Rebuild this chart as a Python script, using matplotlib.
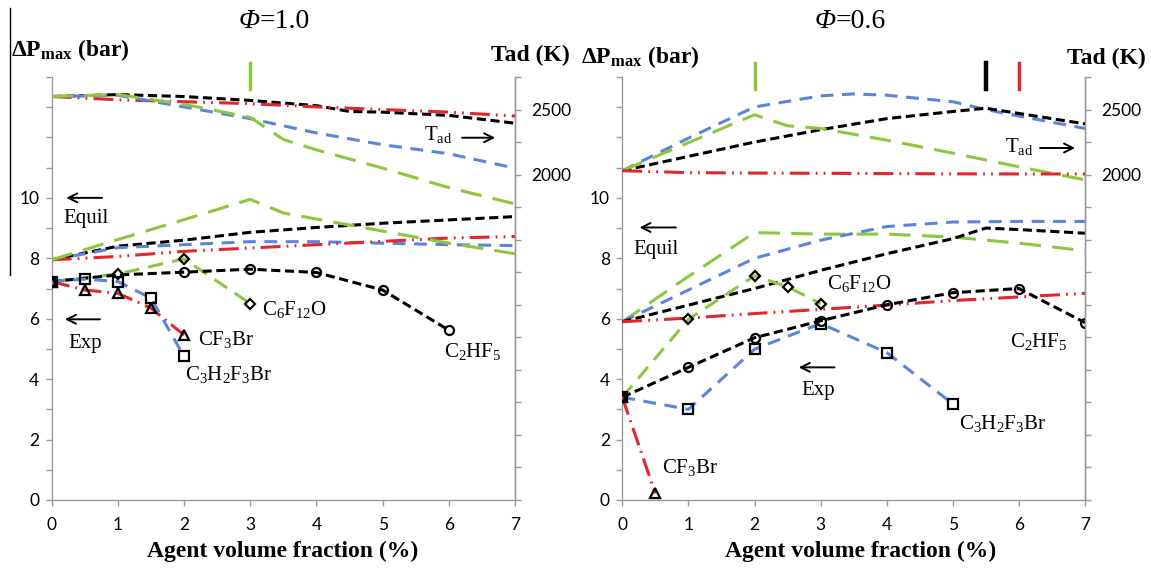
import matplotlib
matplotlib.use('Agg')
import matplotlib.pyplot as plt
from matplotlib.lines import Line2D

plt.rcParams['mathtext.fontset'] = 'custom'
plt.rcParams['mathtext.rm'] = 'Liberation Serif'
plt.rcParams['mathtext.it'] = 'Liberation Serif:italic'
plt.rcParams['mathtext.bf'] = 'Liberation Serif:bold'

# ---------------- data: Phi = 1.0 (left panel) ----------------
x_int = [0, 1, 2, 3, 4, 5, 6, 7]

L_tad_black_x = [0, 1, 2, 3, 4, 4.5, 5, 6, 7]
L_tad_black = [2600, 2615, 2600, 2570, 2530, 2485, 2480, 2455, 2395]
L_tad_red = [2600, 2575, 2560, 2545, 2520, 2500, 2480, 2450]
L_tad_blue = [2600, 2610, 2520, 2430, 2320, 2230, 2160, 2050]
L_tad_green_x = [0, 1, 2, 3, 3.5, 4, 5, 6, 7]
L_tad_green = [2600, 2615, 2540, 2440, 2270, 2190, 2050, 1900, 1775]

L_eq_black = [7.95, 8.40, 8.60, 8.86, 9.02, 9.16, 9.27, 9.38]
L_eq_blue = [7.95, 8.35, 8.45, 8.55, 8.55, 8.50, 8.45, 8.42]
L_eq_red = [7.95, 8.06, 8.23, 8.34, 8.45, 8.56, 8.67, 8.72]
L_eq_green_x = [0, 1, 2, 3, 3.5, 4, 5, 6, 7]
L_eq_green = [7.95, 8.62, 9.28, 9.95, 9.50, 9.30, 8.90, 8.50, 8.15]

L_exp_c2hf5_x = [0, 1, 2, 3, 4, 5, 6]
L_exp_c2hf5 = [7.23, 7.45, 7.54, 7.64, 7.53, 6.95, 5.62]
L_exp_c6f12o_x = [0, 1, 2, 3]
L_exp_c6f12o = [7.23, 7.48, 7.98, 6.50]
L_exp_cf3br_x = [0, 0.5, 1, 1.5, 2]
L_exp_cf3br = [7.23, 6.95, 6.84, 6.35, 5.46]
L_exp_c3h2f3br_x = [0, 0.5, 1, 1.5, 2]
L_exp_c3h2f3br = [7.23, 7.31, 7.23, 6.68, 4.75]

# ---------------- data: Phi = 0.6 (right panel) ----------------
R_tad_black_x = [0, 1, 2, 3, 4, 5, 5.5, 6, 7]
R_tad_black = [2030, 2140, 2250, 2345, 2430, 2485, 2510, 2470, 2390]
R_tad_blue_x = [0, 1, 2, 3, 3.5, 4, 5, 5.5, 6, 7]
R_tad_blue = [2030, 2280, 2520, 2605, 2620, 2610, 2560, 2500, 2450, 2355]
R_tad_green_x = [0, 1, 2, 2.5, 3, 4, 5, 6, 7]
R_tad_green = [2030, 2245, 2460, 2375, 2355, 2265, 2165, 2060, 1960]
R_tad_red = [2030, 2015, 2012, 2010, 2008, 2006, 2005, 2005]

R_eq_green = [5.90, 7.40, 8.85, 8.80, 8.80, 8.70, 8.50, 8.25]
R_eq_blue = [5.90, 6.95, 8.00, 8.60, 9.05, 9.20, 9.22, 9.22]
R_eq_black_x = [0, 1, 2, 3, 4, 5, 5.5, 6, 7]
R_eq_black = [5.90, 6.45, 7.00, 7.60, 8.15, 8.65, 9.00, 8.95, 8.83]
R_eq_red = [5.90, 6.02, 6.17, 6.31, 6.45, 6.60, 6.72, 6.84]

R_exp_c2hf5 = [3.40, 4.39, 5.37, 5.93, 6.46, 6.86, 7.00, 5.87]
R_exp_c3h2f3br_x = [0, 1, 2, 3, 4, 5]
R_exp_c3h2f3br = [3.40, 3.00, 4.99, 5.84, 4.88, 3.18]
R_exp_cf3br_x = [0, 0.5]
R_exp_cf3br = [3.40, 0.22]
R_exp_c6f12o_x = [0, 1, 2, 2.5, 3]
R_exp_c6f12o = [3.40, 5.98, 7.42, 7.06, 6.50]

L_peak_x = [3]
L_peak_colors = ['green']
R_peak_x = [2, 5.5, 6]
R_peak_colors = ['green', 'black', 'red']

# ---------------- styles ----------------
C = {'black': '#000000', 'blue': '#5b84dc', 'green': '#8dc63f', 'red': '#e2262b'}
LS = {'black': (0, (3.0, 1.5)),
      'blue': (0, (4.2, 2.8)),
      'green': (0, (7.0, 3.7)),
      'red': (0, (6.5, 2.0, 0.6, 2.0, 0.6, 2.0))}
SPINE = '#9a9a9a'
W, H = 1151, 568
LW = 2.2

fig = plt.figure(figsize=(W / 100, H / 100), dpi=100)

def fx(px):
    return px / W

def fy(py):
    return 1 - py / H

def style_axes(ax, ax2):
    ax.set_xlim(0, 7)
    ax.set_ylim(0, 14)
    ax2.set_ylim(-500, 2750)
    for a in (ax, ax2):
        a.spines['top'].set_visible(False)
        for s in ('left', 'right', 'bottom'):
            a.spines[s].set_color(SPINE)
            a.spines[s].set_linewidth(1.0)
        a.tick_params(colors=SPINE, labelcolor='black', length=4, width=1,
                      direction='out', labelsize=12.5)
    ax.set_xticks(range(8))
    ax.set_xticklabels([str(i) for i in range(8)], fontfamily='Lato')
    ax.tick_params(axis='x', pad=8)
    ax.tick_params(axis='y', pad=5)
    yt = list(range(15))
    ax.set_yticks(yt)
    ax.set_yticklabels([str(v) if (v % 2 == 0 and v <= 10) else '' for v in yt],
                       fontfamily='Lato')
    rt = list(range(-500, 2751, 250))
    ax2.set_yticks(rt)
    ax2.set_yticklabels([str(v) if v in (2000, 2500) else '' for v in rt],
                        fontfamily='Lato')
    ax2.tick_params(axis='y', pad=8)
    ax2.spines['left'].set_visible(False)
    ax2.spines['bottom'].set_visible(False)

def line(a, x, y, col, lw=LW, ls=None, z=3):
    a.plot(x, y, color=C[col], lw=lw, linestyle=ls if ls is not None else LS[col],
           zorder=z, solid_capstyle='butt', dash_capstyle='butt')

def marks(a, x, y, m, ms):
    a.plot(x, y, linestyle='none', marker=m, ms=ms, mfc='none', mec='black',
           mew=1.6, zorder=6)

def tlabel(a, x, y, s, ha='left'):
    a.text(x, y, s, ha=ha, va='center', fontsize=15, fontfamily='Liberation Serif',
           zorder=7)

def arrow(a, x_head, x_tail, y):
    a.annotate('', xy=(x_head, y), xytext=(x_tail, y),
               arrowprops=dict(arrowstyle='->', lw=1.4, color='black',
                               mutation_scale=16, shrinkA=0, shrinkB=0),
               zorder=7)

# ---------------- left panel ----------------
axL = fig.add_axes([fx(51.7), fy(500), fx(515 - 51.7), (500 - 77) / H])
axL2 = axL.twinx()
style_axes(axL, axL2)

line(axL2, L_tad_black_x, L_tad_black, 'black')
line(axL2, x_int, L_tad_red, 'red')
line(axL2, x_int, L_tad_blue, 'blue')
line(axL2, L_tad_green_x, L_tad_green, 'green')

line(axL, x_int, L_eq_black, 'black')
line(axL, x_int, L_eq_blue, 'blue')
line(axL, x_int, L_eq_red, 'red')
line(axL, L_eq_green_x, L_eq_green, 'green')

line(axL, L_exp_c6f12o_x, L_exp_c6f12o, 'green', ls=(0, (5, 3)))
line(axL, L_exp_c2hf5_x, L_exp_c2hf5, 'black')
line(axL, L_exp_cf3br_x, L_exp_cf3br, 'red', ls=(0, (6, 2, 0.6, 2)))
line(axL, L_exp_c3h2f3br_x, L_exp_c3h2f3br, 'blue')
marks(axL, L_exp_c2hf5_x[:1] + L_exp_c2hf5_x[2:], L_exp_c2hf5[:1] + L_exp_c2hf5[2:], 'o', 6.5)
marks(axL, L_exp_c6f12o_x, L_exp_c6f12o, 'D', 5.5)
marks(axL, L_exp_cf3br_x, L_exp_cf3br, '^', 7)
marks(axL, L_exp_c3h2f3br_x, L_exp_c3h2f3br, 's', 7.5)

for px, pc in zip(L_peak_x, L_peak_colors):
    axL.plot([px, px], [13.6, 14.46], color=C[pc], lw=2.5, clip_on=False, zorder=5)

tlabel(axL, 5.62, 12.09, r'T$_{\rm ad}$')
arrow(axL, 6.7, 6.2, 11.99)
arrow(axL, 0.22, 0.76, 10.0)
axL.text(0.52, 9.33, 'Equil', ha='center', va='center', fontsize=15,
         fontfamily='Liberation Serif')
arrow(axL, 0.2, 0.73, 5.98)
axL.text(0.51, 5.17, 'Exp', ha='center', va='center', fontsize=15,
         fontfamily='Liberation Serif')
tlabel(axL, 3.17, 6.31, r'C$_6$F$_{12}$O')
tlabel(axL, 2.21, 5.30, r'CF$_3$Br')
tlabel(axL, 2.02, 4.14, r'C$_3$H$_2$F$_3$Br')
tlabel(axL, 5.92, 4.91, r'C$_2$HF$_5$')

# ---------------- right panel ----------------
axR = fig.add_axes([fx(622.3), fy(500), fx(1085 - 622.3), (500 - 77) / H])
axR2 = axR.twinx()
style_axes(axR, axR2)

line(axR2, R_tad_blue_x, R_tad_blue, 'blue')
line(axR2, R_tad_black_x, R_tad_black, 'black')
line(axR2, R_tad_green_x, R_tad_green, 'green')
line(axR2, x_int, R_tad_red, 'red')

line(axR, x_int, R_eq_green, 'green')
line(axR, x_int, R_eq_blue, 'blue')
line(axR, R_eq_black_x, R_eq_black, 'black')
line(axR, x_int, R_eq_red, 'red')

line(axR, R_exp_c6f12o_x, R_exp_c6f12o, 'green', ls=(0, (5, 3)))
line(axR, x_int, R_exp_c2hf5, 'black')
line(axR, R_exp_c3h2f3br_x, R_exp_c3h2f3br, 'blue')
line(axR, R_exp_cf3br_x, R_exp_cf3br, 'red', ls=(0, (6, 2, 0.6, 2)))
marks(axR, x_int, R_exp_c2hf5, 'o', 6.5)
marks(axR, R_exp_c6f12o_x, R_exp_c6f12o, 'D', 5.5)
marks(axR, R_exp_cf3br_x, R_exp_cf3br, '^', 7)
marks(axR, R_exp_c3h2f3br_x, R_exp_c3h2f3br, 's', 7.5)

for px, pc in zip(R_peak_x, R_peak_colors):
    axR.plot([px, px], [13.6, 14.46], color=C[pc], lw=3.2 if pc == 'black' else 2.5,
             clip_on=False, zorder=5)

tlabel(axR, 5.79, 11.7, r'T$_{\rm ad}$')
arrow(axR, 6.85, 6.32, 11.65)
arrow(axR, 0.26, 0.81, 9.02)
axR.text(0.51, 8.28, 'Equil', ha='center', va='center', fontsize=15,
         fontfamily='Liberation Serif')
tlabel(axR, 3.10, 7.17, r'C$_6$F$_{12}$O')
arrow(axR, 2.67, 3.21, 4.39)
axR.text(2.96, 3.64, 'Exp', ha='center', va='center', fontsize=15,
         fontfamily='Liberation Serif')
tlabel(axR, 5.87, 5.24, r'C$_2$HF$_5$')
tlabel(axR, 5.09, 2.54, r'C$_3$H$_2$F$_3$Br')
tlabel(axR, 0.60, 1.08, r'CF$_3$Br')

# ---------------- figure texts ----------------
for xs, val in ((260, '=1.0'), (836, '=0.6')):
    fig.text(fx(xs), fy(21), 'Φ', ha='right', va='center', fontsize=20,
             fontstyle='italic', fontfamily='Liberation Serif')
    fig.text(fx(xs), fy(21), val, ha='left', va='center', fontsize=20,
             fontfamily='Liberation Serif')
for xl, yl in ((11, 50), (581, 57)):
    fig.text(fx(xl), fy(yl), r'$\mathbf{\Delta P_{max}}$ (bar)', ha='left', va='center',
             fontsize=17, fontweight='bold', fontfamily='Liberation Serif')
for xr, yr in ((570, 55), (1146, 58)):
    fig.text(fx(xr), fy(yr), 'Tad (K)', ha='right', va='center',
             fontsize=17, fontweight='bold', fontfamily='Liberation Serif')
for xc in (283, 861):
    fig.text(fx(xc), fy(551), 'Agent volume fraction (%)', ha='center', va='center',
             fontsize=17, fontweight='bold', fontfamily='Liberation Serif')

fig.add_artist(Line2D([fx(10), fx(10)], [fy(8), fy(275)], color='black', lw=1.0))

fig.savefig('out.png', dpi=100)
